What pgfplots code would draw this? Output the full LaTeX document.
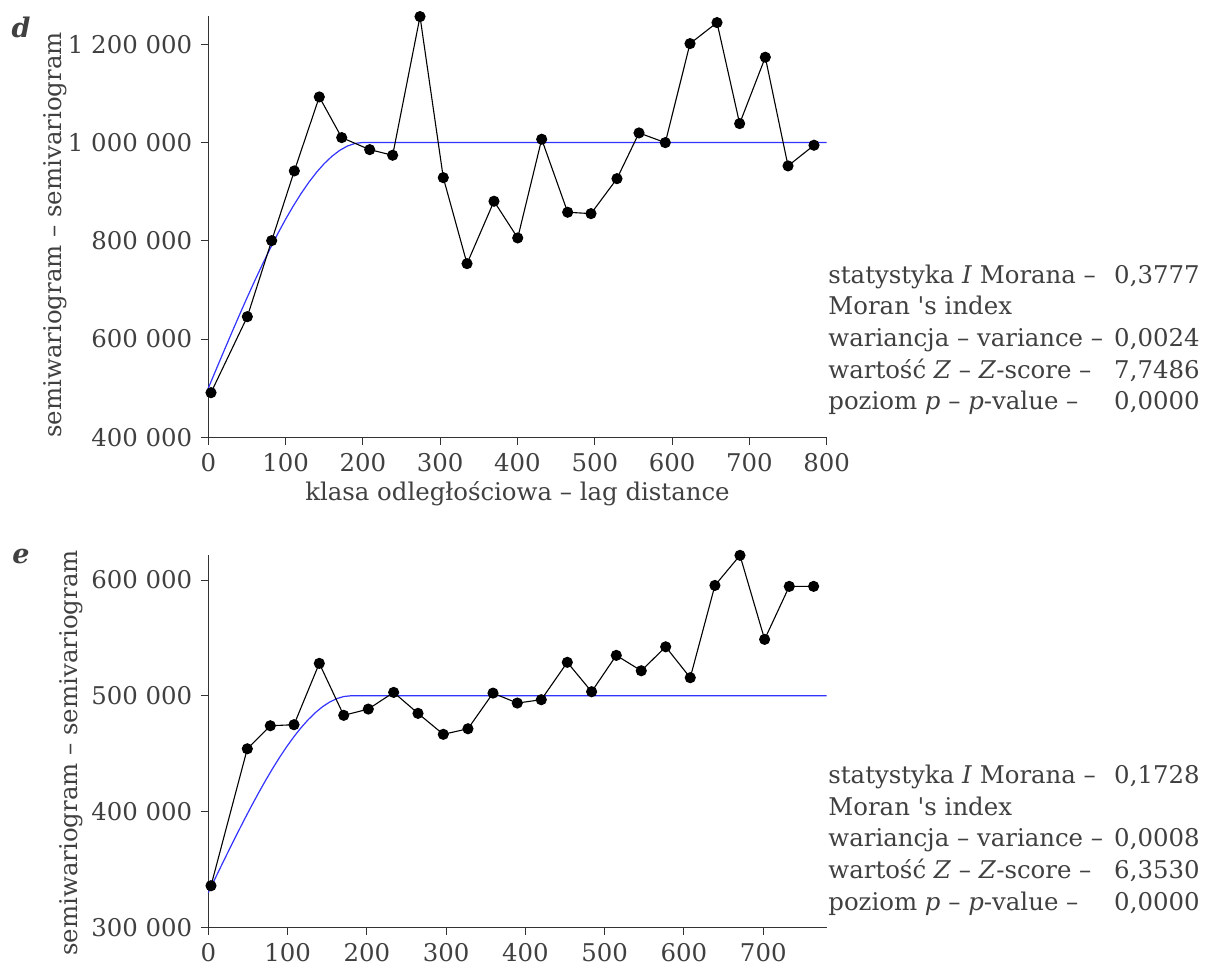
\documentclass[border=0pt]{standalone}
\usepackage{pgfplots}
\pgfplotsset{compat=1.18}
\usepackage{fontspec}
\setmainfont{DejaVu Serif}
\definecolor{txt}{RGB}{64,64,64}
\definecolor{fitc}{RGB}{51,51,255}
\pgfplotsset{
  semi/.style={
    scale only axis, width=309.2pt,
    axis lines=left, axis line style={-, black!80, line width=0.6pt},
    tick align=outside, major tick length=3.8pt,
    tick style={black!80, line width=0.5pt},
    ticklabel style={text=txt, font=\fontsize{12.2}{14}\selectfont},
    scaled y ticks=false, scaled x ticks=false,
    clip=false, xmin=0,
  },
  obs/.style={black, line width=0.55pt, mark=*, mark size=2.5pt, mark options={fill=black}},
  model/.style={fitc, line width=0.6pt, no marks},
}
\begin{document}
\fontsize{12.2}{14}\selectfont
\begin{tikzpicture}
\path[use as bounding box] (0,0) rectangle (602.5pt,-483.5pt);
% ---------- panel d
\begin{axis}[semi, at={(104.15pt,-218.65pt)}, anchor=south west,
  height=210.8pt, xmax=800, ymin=400000, ymax=1258000,
  xtick={0,100,...,800}, xticklabels={0,100,200,300,400,500,600,700,800},
  ytick={400000,600000,800000,1000000,1200000},
  yticklabels={400 000,600 000,800 000,1 000 000,1 200 000}]
\addplot[model] coordinates {
(0,500000)(10,537469)(20,574750)(30,611656)(40,648000)(50,683594)(60,718250)
(70,751781)(80,784000)(90,814719)(100,843750)(110,870906)(120,896000)
(130,918844)(140,939250)(150,957031)(160,972000)(170,983969)(180,992750)
(190,998156)(200,1000000)(800,1000000)};
\addplot[obs] coordinates {
(3.5,490800)(50.5,645500)(82,800200)(111.3,942100)(143.6,1092700)
(172.6,1009900)(208.8,985400)(238.5,974000)(273.9,1256200)(304,928400)
(334.7,753400)(369.6,880400)(400.3,805700)(431.3,1006600)(464.9,858000)
(495.1,855200)(528.7,926400)(557.2,1019400)(591.2,999700)(623.2,1201200)
(658.1,1244000)(687.4,1038400)(720.6,1173500)(750,952300)(783.6,994400)};
\end{axis}
% ---------- panel e
\begin{axis}[semi, at={(104.15pt,-463.65pt)}, anchor=south west,
  height=186.15pt, xmax=780, ymin=300000, ymax=621600,
  xtick={0,100,...,700}, xticklabels={0,100,200,300,400,500,600,700},
  ytick={300000,400000,500000,600000},
  yticklabels={300 000,400 000,500 000,600 000}]
\addplot[model] coordinates {
(0,330000)(9,342739)(18,355415)(27,367963)(36,380320)(45,392422)(54,404205)
(63,415606)(72,426560)(81,437004)(90,446875)(99,456108)(108,464640)
(117,472407)(126,479345)(135,485391)(144,490480)(153,494549)(162,497535)
(171,499373)(180,500000)(780,500000)};
\addplot[obs] coordinates {
(3.4,335900)(49.2,454200)(78.2,474100)(108.1,475000)(140,528000)
(170.8,483100)(201.8,488500)(233.8,502900)(264.5,484800)(296.4,466700)
(327.5,471500)(359.1,502300)(389.7,493700)(420,496600)(452.8,528900)
(483.5,503500)(514.6,534900)(546.1,521600)(576.9,542300)(607.9,515600)
(639,595300)(670.6,621300)(701.7,548700)(732.8,594500)(763.5,594500)};
\end{axis}
% ---------- labels
\begin{scope}[every node/.style={text=txt, inner sep=0pt}]
\node[font=\fontsize{13.5}{15}\selectfont\bfseries\itshape] at (10.5pt,-13.5pt) {d};
\node[font=\fontsize{13.5}{15}\selectfont\bfseries\itshape] at (10.5pt,-278pt) {e};
\node[rotate=90] at (27.5pt,-117.5pt) {semiwariogram – semivariogram};
\node[rotate=90] at (35.5pt,-376.5pt) {semiwariogram – semivariogram};
\node at (258.75pt,-247pt) {klasa odległościowa – lag distance};
% stats d
\node[anchor=base west] at (414pt,-141.65pt) {statystyka \textit{I} Morana –};
\node[anchor=base west] at (414pt,-157.5pt) {Moran \textquotesingle s index};
\node[anchor=base west] at (414pt,-173.35pt) {wariancja – variance –};
\node[anchor=base west] at (414pt,-189.2pt) {wartość \textit{Z} – \textit{Z}-score –};
\node[anchor=base west] at (414pt,-205pt) {poziom \textit{p} – \textit{p}-value –};
\node[anchor=base east] at (600pt,-141.65pt) {0,3777};
\node[anchor=base east] at (600pt,-173.35pt) {0,0024};
\node[anchor=base east] at (600pt,-189.2pt) {7,7486};
\node[anchor=base east] at (600pt,-205pt) {0,0000};
% stats e
\node[anchor=base west] at (414pt,-391.65pt) {statystyka \textit{I} Morana –};
\node[anchor=base west] at (414pt,-407.5pt) {Moran \textquotesingle s index};
\node[anchor=base west] at (414pt,-423.35pt) {wariancja – variance –};
\node[anchor=base west] at (414pt,-439.2pt) {wartość \textit{Z} – \textit{Z}-score –};
\node[anchor=base west] at (414pt,-455pt) {poziom \textit{p} – \textit{p}-value –};
\node[anchor=base east] at (600pt,-391.65pt) {0,1728};
\node[anchor=base east] at (600pt,-423.35pt) {0,0008};
\node[anchor=base east] at (600pt,-439.2pt) {6,3530};
\node[anchor=base east] at (600pt,-455pt) {0,0000};
\end{scope}
\end{tikzpicture}
\end{document}
